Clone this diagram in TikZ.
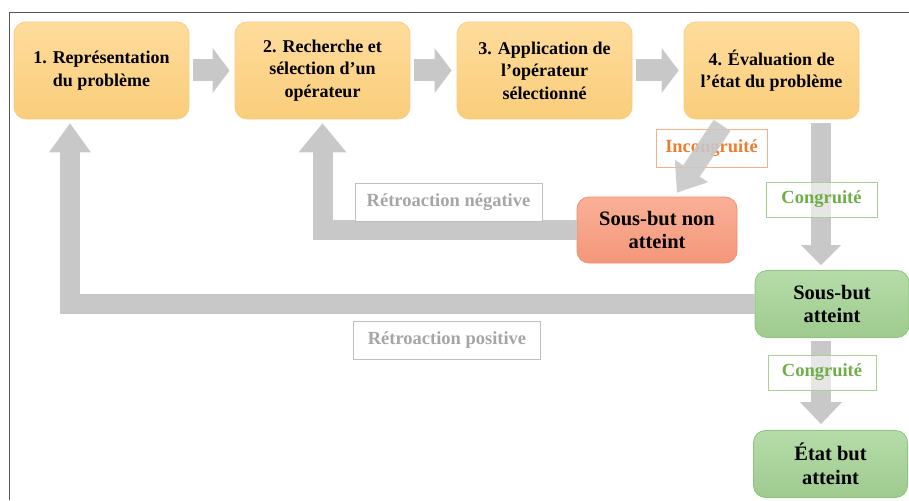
\documentclass[tikz,border=0pt]{standalone}
\usepackage{fontspec}
\setmainfont{Liberation Serif}
\usetikzlibrary{arrows.meta}
\definecolor{orangetop}{HTML}{FFDC9C}
\definecolor{orangebot}{HTML}{F9CD7A}
\definecolor{orangeline}{HTML}{F7CC84}
\definecolor{redtop}{HTML}{F9B097}
\definecolor{redbot}{HTML}{F4977A}
\definecolor{redline}{HTML}{EE8F70}
\definecolor{greentop}{HTML}{B6DCA9}
\definecolor{greenbot}{HTML}{9ECB8E}
\definecolor{greenline}{HTML}{8DC27E}
\definecolor{arrowgray}{HTML}{C8C8C8}
\definecolor{lblgrayline}{HTML}{BFBFBF}
\definecolor{lblgraytext}{HTML}{A6A6A6}
\definecolor{lblorange}{HTML}{ED7D31}
\definecolor{lblorangeline}{HTML}{F4B183}
\definecolor{lblgreen}{HTML}{70AD47}
\definecolor{lblgreenline}{HTML}{A9D18E}
\definecolor{framegray}{HTML}{555555}
\begin{document}
\begin{tikzpicture}[x=1pt,y=-1pt,
  box/.style={rounded corners=12pt,align=center,inner sep=0pt,line width=0.8pt,
    font=\fontsize{18}{22.5}\selectfont\bfseries},
  stepbox/.style={box,draw=orangeline,top color=orangetop,bottom color=orangebot,
    minimum width=175pt,minimum height=97pt},
  failbox/.style={box,draw=redline,top color=redtop,bottom color=redbot,
    minimum width=160pt,minimum height=66pt,font=\fontsize{20.5}{23.5}\selectfont\bfseries},
  goalbox/.style={box,draw=greenline,top color=greentop,bottom color=greenbot,
    minimum width=154pt,minimum height=67pt,font=\fontsize{20.5}{23.5}\selectfont\bfseries},
  lbl/.style={draw,fill=white,inner sep=0pt,line width=0.6pt,
    font=\fontsize{18.5}{20}\selectfont\bfseries},
  fblbl/.style={lbl,draw=lblgrayline,text=lblgraytext,minimum width=187pt,minimum height=38pt},
  shaft/.style={draw=arrowgray,line width=#1},
  head/.style 2 args={arrows={-{Triangle[width=#1,length=#2,line width=0pt]}}}]
\useasboundingbox (0,0) rectangle (909,500);
\draw[framegray,line width=1pt] (9,500) -- (9,13) -- (909,13);
\node[stepbox] (b1) at (101.5,70.5) {1. Représentation\\du problème};
\node[stepbox] (b2) at (322.5,70.5) {2. Recherche et\\sélection d’un\\opérateur};
\node[stepbox] (b3) at (544.5,70.5) {3. Application de\\l’opérateur\\sélectionné};
\node[stepbox] (b4) at (771.5,70.5) {4. Évaluation de\\l’état du problème};
\node[failbox] (sbna) at (657,230) {Sous-but non\\atteint};
\node[goalbox] (sba) at (832,304) {Sous-but\\atteint};
\node[goalbox] (eba) at (830.5,464) {État but\\atteint};
\draw[shaft=22pt,head={45pt}{17pt},shorten <=4pt,shorten >=5pt] (b1) -- (b2);
\draw[shaft=22pt,head={45pt}{17pt},shorten <=4pt,shorten >=5pt] (b2) -- (b3);
\draw[shaft=22pt,head={45pt}{17pt},shorten <=4pt,shorten >=5pt] (b3) -- (b4);
\draw[shaft=20pt,head={48pt}{29pt}] (sbna.west) -| ([yshift=-4pt]b2.south);
\draw[shaft=20pt,head={42pt}{29pt}] (sba.west) -| ([xshift=-31.5pt,yshift=-4pt]b1.south);
\draw[shaft=20pt,head={40pt}{20pt}] ([xshift=49.5pt,yshift=-4pt]b4.south) -- ([xshift=-11pt,yshift=5pt]sba.north);
\draw[shaft=20pt,head={42pt}{22pt}] ([xshift=-11pt,yshift=-3pt]sba.south) -- ([xshift=-9.5pt,yshift=6pt]eba.north);
\node[fblbl] (neg) at (448.5,202) {Rétroaction négative};
\node[fblbl] (pos) at (447,340.5) {Rétroaction positive};
\node[lbl,draw=lblorangeline,text=lblorange,minimum width=111pt,minimum height=38pt] (inc) at (711.5,148) {Incongruité};
\draw[shaft=20pt,head={40pt}{26pt},opacity=0.9] ([xshift=-49.5pt,yshift=-6pt]b4.south) -- ([xshift=20pt,yshift=4pt]sbna.north);
\node[lbl,draw=lblgreenline,text=lblgreen,fill opacity=0.55,text opacity=1,minimum width=111pt,minimum height=35pt] (con1) at (821.5,199.5) {Congruité};
\node[lbl,draw=lblgreenline,text=lblgreen,fill opacity=0.55,text opacity=1,minimum width=108pt,minimum height=35pt] (con2) at (822,372.5) {Congruité};
\end{tikzpicture}
\end{document}
